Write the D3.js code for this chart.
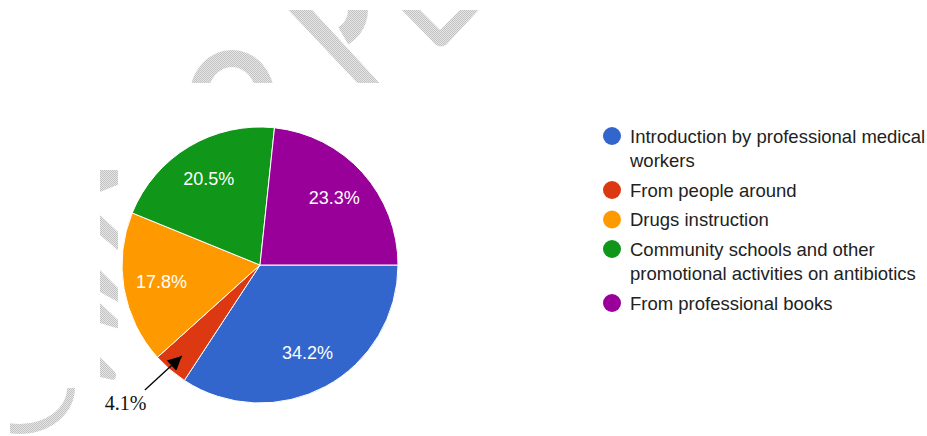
<!DOCTYPE html>
<html>
<head>
<meta charset="utf-8">
<script src="https://cdn.jsdelivr.net/npm/d3@7"></script>
<style>
  html, body { margin: 0; padding: 0; background: #fff; }
  svg { display: block; }
</style>
</head>
<body>
<svg id="chart" width="927" height="436"></svg>
<script>
// Sources of antibiotic knowledge (share of respondents, %)
const categories = [
  "Introduction by professional medical workers",
  "From people around",
  "Drugs instruction",
  "Community schools and other promotional activities on antibiotics",
  "From professional books"
];
const values = [34.2, 4.1, 17.8, 20.5, 23.3];
const colors = ["#3366cc", "#dc3912", "#ff9900", "#109618", "#990099"];
// slices whose percentage is written outside the pie with a pointer arrow
const outsideLabels = [false, true, false, false, false];

const svg = d3.select("#chart");
const defs = svg.append("defs");

// ---- light stippled background marks ----
const pat = defs.append("pattern")
  .attr("id", "stipple").attr("width", 2).attr("height", 2)
  .attr("patternUnits", "userSpaceOnUse");
pat.append("rect").attr("width", 2).attr("height", 2).attr("fill", "#e6e6e6");
pat.append("rect").attr("x", 0).attr("y", 0).attr("width", 1).attr("height", 1).attr("fill", "#c2c2c2");
pat.append("rect").attr("x", 1).attr("y", 1).attr("width", 1).attr("height", 1).attr("fill", "#c2c2c2");

defs.append("clipPath").attr("id", "clipTop")
  .append("rect").attr("x", 0).attr("y", 10).attr("width", 927).attr("height", 73);
defs.append("clipPath").attr("id", "clipLeft")
  .append("rect").attr("x", 100).attr("y", 168).attr("width", 18).attr("height", 220);
defs.append("clipPath").attr("id", "clipCorner")
  .append("rect").attr("x", 10).attr("y", 388).attr("width", 100).attr("height", 48);

function ellipseRing(cx, cy, rx1, ry1, rx2, ry2) {
  const e = (rx, ry) => `M${cx - rx},${cy}A${rx},${ry} 0 1,0 ${cx + rx},${cy}A${rx},${ry} 0 1,0 ${cx - rx},${cy}Z`;
  return e(rx1, ry1) + e(rx2, ry2);
}

const wmTop = svg.append("g").attr("clip-path", "url(#clipTop)").attr("fill", "url(#stipple)");
wmTop.append("path").attr("fill-rule", "evenodd").attr("d", ellipseRing(232, 95, 42, 45, 24, 28));
wmTop.append("path").attr("d", "M279,0L303,0L385,89L363,89Z");
wmTop.append("path").attr("transform", "translate(328,10)")
  .attr("d", d3.arc()({ innerRadius: 20, outerRadius: 40, startAngle: Math.PI / 2 - 0.4, endAngle: Math.PI * 0.83 }));
wmTop.append("path").attr("d", "M394,2L412,2L440,30L468,2L486,2L447,44Q441,49 435,44Z");

const wmLeft = svg.append("g").attr("clip-path", "url(#clipLeft)").attr("fill", "url(#stipple)");
wmLeft.append("path").attr("d", "M100,170L120,170L120,184L100,192Z");
wmLeft.append("path").attr("d", "M100,215L120,234L120,252L100,235Z");
wmLeft.append("path").attr("d", "M100,270L120,290L120,303L100,292Z");
wmLeft.append("path").attr("d", "M100,303L120,322L120,329L100,323Z");
wmLeft.append("path").attr("d", "M100,357L114,371Q119,377 113,380L100,377Z");

svg.append("g").attr("clip-path", "url(#clipCorner)").attr("fill", "url(#stipple)")
  .append("path").attr("fill-rule", "evenodd").attr("d", ellipseRing(20, 388, 55, 46, 47, 36));

// ---- pie ----
const cx = 260, cy = 265, radius = 138;
const data = categories.map((c, i) => ({ name: c, value: values[i], color: colors[i], outside: outsideLabels[i] }));

const pie = d3.pie().value(d => d.value).sort(null)
  .startAngle(Math.PI / 2).endAngle(Math.PI / 2 + 2 * Math.PI);
const arcs = pie(data);
const arc = d3.arc().innerRadius(0).outerRadius(radius);
const labelArc = d3.arc().innerRadius(100).outerRadius(100);
const pointerArc = d3.arc().innerRadius(120).outerRadius(120);

const g = svg.append("g").attr("transform", `translate(${cx},${cy})`);
g.selectAll("path.slice").data(arcs).join("path")
  .attr("class", "slice")
  .attr("d", arc)
  .attr("fill", d => d.data.color)
  .attr("stroke", "#fff")
  .attr("stroke-width", 1);

g.selectAll("text.pct").data(arcs.filter(d => !d.data.outside)).join("text")
  .attr("class", "pct")
  .attr("transform", d => `translate(${labelArc.centroid(d)})`)
  .attr("text-anchor", "middle")
  .attr("dominant-baseline", "central")
  .attr("font-family", "Arial, 'Liberation Sans', sans-serif")
  .attr("font-size", 18)
  .attr("fill", "#fff")
  .text(d => d.data.value.toFixed(1) + "%");

// pointer arrows for small slices
defs.append("marker")
  .attr("id", "arrowHead").attr("viewBox", "0 0 10 10")
  .attr("refX", 10).attr("refY", 5)
  .attr("markerWidth", 18).attr("markerHeight", 14)
  .attr("markerUnits", "userSpaceOnUse")
  .attr("orient", "auto")
  .append("path").attr("d", "M0,0L10,5L0,10Z").attr("fill", "#000");

arcs.filter(d => d.data.outside).forEach(d => {
  const [tx, ty] = pointerArc.centroid(d);
  const tip = [cx + tx, cy + ty];
  const start = [tip[0] - 37, tip[1] + 34];
  svg.append("line")
    .attr("x1", start[0]).attr("y1", start[1])
    .attr("x2", tip[0]).attr("y2", tip[1])
    .attr("stroke", "#000").attr("stroke-width", 1.3)
    .attr("marker-end", "url(#arrowHead)");
  svg.append("text")
    .attr("x", start[0] - 40).attr("y", start[1] + 20)
    .attr("font-family", "'Times New Roman', 'Liberation Serif', serif")
    .attr("font-size", 20)
    .attr("fill", "#111")
    .text(d.data.value.toFixed(1) + "%");
});

// ---- legend ----
const legend = svg.append("g").attr("class", "legend");
const lgX = 612, lgTextX = 630, lineH = 24.5, itemGap = 29.5, maxW = 300;
let y = 136;
data.forEach((d, i) => {
  legend.append("circle").attr("cx", lgX).attr("cy", y).attr("r", 9).attr("fill", d.color);
  const words = d.name.split(" ");
  let line = [];
  const t = legend.append("text")
    .attr("font-family", "Arial, 'Liberation Sans', sans-serif")
    .attr("font-size", 18.5).attr("fill", "#222");
  let ts = t.append("tspan").attr("x", lgTextX).attr("y", y).attr("dominant-baseline", "central");
  words.forEach(w => {
    line.push(w);
    ts.text(line.join(" "));
    if (ts.node().getComputedTextLength() > maxW && line.length > 1) {
      line.pop();
      ts.text(line.join(" "));
      line = [w];
      y += lineH;
      ts = t.append("tspan").attr("x", lgTextX).attr("y", y).attr("dominant-baseline", "central").text(w);
    }
  });
  y += itemGap;
});
</script>
</body>
</html>
